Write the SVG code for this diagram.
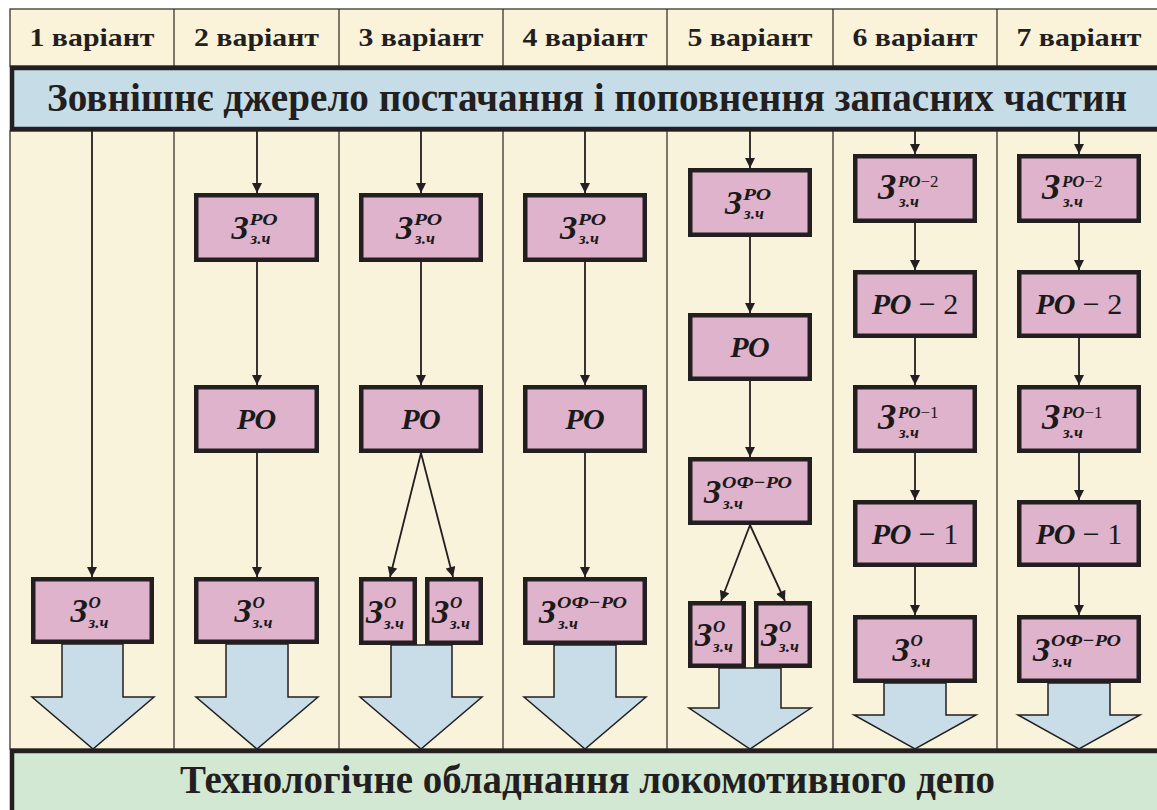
<svg xmlns="http://www.w3.org/2000/svg" width="1157" height="810" viewBox="0 0 1157 810">
<defs>
<marker id="ah" viewBox="0 0 10 10" refX="10" refY="5" markerWidth="11" markerHeight="10" markerUnits="userSpaceOnUse" orient="auto"><path d="M0,0 L10,5 L0,10 z" fill="#231f20"/></marker>
<style>
.hdr{font-family:"Liberation Serif",serif;font-weight:bold;font-size:26px;fill:#231f20;text-anchor:middle}
.band{font-family:"Liberation Serif",serif;font-weight:bold;font-size:39px;fill:#231f20}
.box{fill:#dfb3cb;stroke:#231f20;stroke-width:4.5}
.z{font-family:"Liberation Serif",serif;font-weight:bold;font-style:italic;font-size:34px;fill:#1a1a1a}
.z2{font-family:"Liberation Serif",serif;font-weight:bold;font-style:italic;font-size:36px;fill:#1a1a1a}
.sup{font-family:"Liberation Serif",serif;font-weight:bold;font-style:italic;font-size:17px;fill:#1a1a1a}
.sub{font-family:"Liberation Serif",serif;font-weight:bold;font-style:italic;font-size:17px;fill:#1a1a1a}
.rg{font-weight:normal;font-style:normal}
.po{font-family:"Liberation Serif",serif;font-weight:bold;font-style:italic;font-size:30px;fill:#1a1a1a;text-anchor:middle}
.conn{stroke:#231f20;stroke-width:1.8;fill:none;marker-end:url(#ah)}
.big{fill:#c9dde8;stroke:#231f20;stroke-width:1.5}
.div{stroke:#3b342c;stroke-width:1.3}
</style>
</defs>
<rect width="1157" height="810" fill="#ffffff"/>
<g id="background">
<rect x="10" y="9" width="1150" height="57" fill="#fbf3d9" stroke="#3b342c" stroke-width="1.3"/>
<rect x="10" y="131" width="1150" height="618" fill="#faf3dc" stroke="#3b342c" stroke-width="1.3"/>
<line class="div" x1="174" y1="9" x2="174" y2="749"/>
<line class="div" x1="339" y1="9" x2="339" y2="749"/>
<line class="div" x1="503" y1="9" x2="503" y2="749"/>
<line class="div" x1="667" y1="9" x2="667" y2="749"/>
<line class="div" x1="833" y1="9" x2="833" y2="749"/>
<line class="div" x1="997" y1="9" x2="997" y2="749"/>
</g>
<g id="headers">
<text class="hdr" x="92" y="46" textLength="125" lengthAdjust="spacingAndGlyphs">1 варіант</text>
<text class="hdr" x="256.5" y="46" textLength="125" lengthAdjust="spacingAndGlyphs">2 варіант</text>
<text class="hdr" x="421" y="46" textLength="125" lengthAdjust="spacingAndGlyphs">3 варіант</text>
<text class="hdr" x="585" y="46" textLength="125" lengthAdjust="spacingAndGlyphs">4 варіант</text>
<text class="hdr" x="750" y="46" textLength="125" lengthAdjust="spacingAndGlyphs">5 варіант</text>
<text class="hdr" x="915" y="46" textLength="125" lengthAdjust="spacingAndGlyphs">6 варіант</text>
<text class="hdr" x="1079" y="46" textLength="125" lengthAdjust="spacingAndGlyphs">7 варіант</text>
</g>
<g id="source">
<rect x="12" y="68" width="1150" height="61" fill="#c6dde7" stroke="#231f20" stroke-width="4.5"/>
<text class="band" x="47" y="111" textLength="1080" lengthAdjust="spacingAndGlyphs">Зовнішнє джерело постачання і поповнення запасних частин</text>
</g>
<g id="outflows">
<path class="big" d="M62,644 L62,697 L32,697 L93,749 L154,697 L123,697 L123,644 z"/>
<path class="big" d="M226,644 L226,697 L196,697 L257,749 L318,697 L288,697 L288,644 z"/>
<path class="big" d="M391,645 L391,697 L360,697 L421,749 L482,697 L452,697 L452,645 z"/>
<path class="big" d="M554,645 L554,697 L524,697 L585,749 L646,697 L616,697 L616,645 z"/>
<path class="big" d="M719,668 L719,708 L689,708 L750,749 L811,708 L781,708 L781,668 z"/>
<path class="big" d="M884,683 L884,715 L854,715 L915,749 L976,715 L946,715 L946,683 z"/>
<path class="big" d="M1048,683 L1048,715 L1018,715 L1079,749 L1140,715 L1110,715 L1110,683 z"/>
</g>
<g id="connectors">
<line class="conn" x1="92" y1="131" x2="92" y2="577"/>
<line class="conn" x1="257" y1="131" x2="257" y2="193"/>
<line class="conn" x1="257" y1="262" x2="257" y2="385"/>
<line class="conn" x1="257" y1="453" x2="257" y2="577"/>
<line class="conn" x1="421" y1="131" x2="421" y2="193"/>
<line class="conn" x1="421" y1="262" x2="421" y2="385"/>
<line class="conn" x1="421" y1="453" x2="390" y2="577"/>
<line class="conn" x1="421" y1="453" x2="453" y2="577"/>
<line class="conn" x1="585" y1="131" x2="585" y2="193"/>
<line class="conn" x1="585" y1="262" x2="585" y2="385"/>
<line class="conn" x1="585" y1="453" x2="585" y2="577"/>
<line class="conn" x1="750" y1="131" x2="750" y2="168"/>
<line class="conn" x1="750" y1="237" x2="750" y2="313"/>
<line class="conn" x1="750" y1="381" x2="750" y2="457"/>
<line class="conn" x1="750" y1="525" x2="721" y2="601"/>
<line class="conn" x1="750" y1="525" x2="785" y2="601"/>
<line class="conn" x1="915" y1="131" x2="915" y2="154"/>
<line class="conn" x1="915" y1="223" x2="915" y2="270"/>
<line class="conn" x1="915" y1="338" x2="915" y2="385"/>
<line class="conn" x1="915" y1="453" x2="915" y2="500"/>
<line class="conn" x1="915" y1="567" x2="915" y2="615"/>
<line class="conn" x1="1079" y1="131" x2="1079" y2="154"/>
<line class="conn" x1="1079" y1="223" x2="1079" y2="270"/>
<line class="conn" x1="1079" y1="338" x2="1079" y2="385"/>
<line class="conn" x1="1079" y1="453" x2="1079" y2="500"/>
<line class="conn" x1="1079" y1="567" x2="1079" y2="615"/>
</g>
<g id="v1-zo">
<rect class="box" x="33.25" y="579.25" width="118.5" height="62.5"/>
<text class="z" x="70.5" y="622">З</text><text class="sup" x="88.5" y="607.5">О</text><text class="sub" x="88.5" y="628">з.ч</text>
</g>
<g id="v2-zro">
<rect class="box" x="196.25" y="195.25" width="120.5" height="64.5"/>
<text class="z" x="231.5" y="239">З</text><text class="sup" x="249.5" y="224.5" textLength="28" lengthAdjust="spacingAndGlyphs">РО</text><text class="sub" x="250.5" y="244">з.ч</text>
</g>
<g id="v2-po">
<rect class="box" x="196.25" y="387.25" width="120.5" height="63.5"/>
<text class="po" x="256.5" y="429">РО</text>
</g>
<g id="v2-zo">
<rect class="box" x="196.25" y="579.25" width="120.5" height="62.5"/>
<text class="z" x="234.5" y="622">З</text><text class="sup" x="252.5" y="607.5">О</text><text class="sub" x="252.5" y="628">з.ч</text>
</g>
<g id="v3-zro">
<rect class="box" x="361.25" y="195.25" width="119.5" height="64.5"/>
<text class="z" x="396" y="239">З</text><text class="sup" x="414" y="224.5" textLength="28" lengthAdjust="spacingAndGlyphs">РО</text><text class="sub" x="415" y="244">з.ч</text>
</g>
<g id="v3-po">
<rect class="box" x="361.25" y="387.25" width="119.5" height="63.5"/>
<text class="po" x="421" y="429">РО</text>
</g>
<g id="v3-zo-a">
<rect class="box" x="361.25" y="579.25" width="53.5" height="63.5"/>
<text class="z" x="366" y="622.5">З</text><text class="sup" x="384" y="608">О</text><text class="sub" x="384" y="629">з.ч</text>
</g>
<g id="v3-zo-b">
<rect class="box" x="427.25" y="579.25" width="53.5" height="63.5"/>
<text class="z" x="432" y="622.5">З</text><text class="sup" x="450" y="608">О</text><text class="sub" x="450" y="629">з.ч</text>
</g>
<g id="v4-zro">
<rect class="box" x="525.25" y="195.25" width="119.5" height="64.5"/>
<text class="z" x="560" y="239">З</text><text class="sup" x="578" y="224.5" textLength="28" lengthAdjust="spacingAndGlyphs">РО</text><text class="sub" x="579" y="244">з.ч</text>
</g>
<g id="v4-po">
<rect class="box" x="525.25" y="387.25" width="119.5" height="63.5"/>
<text class="po" x="585" y="429">РО</text>
</g>
<g id="v4-zof">
<rect class="box" x="525.25" y="579.25" width="119.5" height="63.5"/>
<text class="z" x="539" y="622.5">З</text><text class="sup" x="557" y="608" textLength="70" lengthAdjust="spacingAndGlyphs">ОФ−РО</text><text class="sub" x="558" y="629">з.ч</text>
</g>
<g id="v5-zro">
<rect class="box" x="690.25" y="170.25" width="119.5" height="64.5"/>
<text class="z" x="725" y="214">З</text><text class="sup" x="743" y="199.5" textLength="28" lengthAdjust="spacingAndGlyphs">РО</text><text class="sub" x="744" y="219">з.ч</text>
</g>
<g id="v5-po">
<rect class="box" x="690.25" y="315.25" width="119.5" height="63.5"/>
<text class="po" x="750" y="357">РО</text>
</g>
<g id="v5-zof">
<rect class="box" x="690.25" y="459.25" width="119.5" height="63.5"/>
<text class="z" x="704" y="502.5">З</text><text class="sup" x="722" y="488" textLength="70" lengthAdjust="spacingAndGlyphs">ОФ−РО</text><text class="sub" x="723" y="509">з.ч</text>
</g>
<g id="v5-zo-a">
<rect class="box" x="690.25" y="603.25" width="53.5" height="62.5"/>
<text class="z" x="695" y="646">З</text><text class="sup" x="713" y="631.5">О</text><text class="sub" x="713" y="652">з.ч</text>
</g>
<g id="v5-zo-b">
<rect class="box" x="756.25" y="603.25" width="53.5" height="62.5"/>
<text class="z" x="761" y="646">З</text><text class="sup" x="779" y="631.5">О</text><text class="sub" x="779" y="652">з.ч</text>
</g>
<g id="v6-zro2">
<rect class="box" x="855.25" y="156.25" width="119.5" height="64.5"/>
<text class="z2" x="878" y="198.5">З</text><text class="sup" x="898" y="187"><tspan>РО</tspan><tspan class="rg">−2</tspan></text><text class="sub" x="899" y="207">з.ч</text>
</g>
<g id="v6-po2">
<rect class="box" x="855.25" y="272.25" width="119.5" height="63.5"/>
<text class="po" x="915" y="314">РО<tspan class="rg"> − 2</tspan></text>
</g>
<g id="v6-zro1">
<rect class="box" x="855.25" y="387.25" width="119.5" height="63.5"/>
<text class="z2" x="878" y="429">З</text><text class="sup" x="898" y="417.5"><tspan>РО</tspan><tspan class="rg">−1</tspan></text><text class="sub" x="899" y="437.5">з.ч</text>
</g>
<g id="v6-po1">
<rect class="box" x="855.25" y="502.25" width="119.5" height="62.5"/>
<text class="po" x="915" y="544">РО<tspan class="rg"> − 1</tspan></text>
</g>
<g id="v6-zo">
<rect class="box" x="855.25" y="617.25" width="119.5" height="63.5"/>
<text class="z" x="892.5" y="660.5">З</text><text class="sup" x="910.5" y="646">О</text><text class="sub" x="910.5" y="667">з.ч</text>
</g>
<g id="v7-zro2">
<rect class="box" x="1019.25" y="156.25" width="119.5" height="64.5"/>
<text class="z2" x="1042" y="198.5">З</text><text class="sup" x="1062" y="187"><tspan>РО</tspan><tspan class="rg">−2</tspan></text><text class="sub" x="1063" y="207">з.ч</text>
</g>
<g id="v7-po2">
<rect class="box" x="1019.25" y="272.25" width="119.5" height="63.5"/>
<text class="po" x="1079" y="314">РО<tspan class="rg"> − 2</tspan></text>
</g>
<g id="v7-zro1">
<rect class="box" x="1019.25" y="387.25" width="119.5" height="63.5"/>
<text class="z2" x="1042" y="429">З</text><text class="sup" x="1062" y="417.5"><tspan>РО</tspan><tspan class="rg">−1</tspan></text><text class="sub" x="1063" y="437.5">з.ч</text>
</g>
<g id="v7-po1">
<rect class="box" x="1019.25" y="502.25" width="119.5" height="62.5"/>
<text class="po" x="1079" y="544">РО<tspan class="rg"> − 1</tspan></text>
</g>
<g id="v7-zof">
<rect class="box" x="1019.25" y="617.25" width="119.5" height="63.5"/>
<text class="z" x="1033" y="660.5">З</text><text class="sup" x="1051" y="646" textLength="70" lengthAdjust="spacingAndGlyphs">ОФ−РО</text><text class="sub" x="1052" y="667">з.ч</text>
</g>
<g id="depot">
<rect x="12" y="751" width="1150" height="70" fill="#d3e8d2" stroke="#231f20" stroke-width="4.5"/>
<text class="band" x="180" y="793" textLength="815" lengthAdjust="spacingAndGlyphs">Технологічне обладнання локомотивного депо</text>
</g>
</svg>
